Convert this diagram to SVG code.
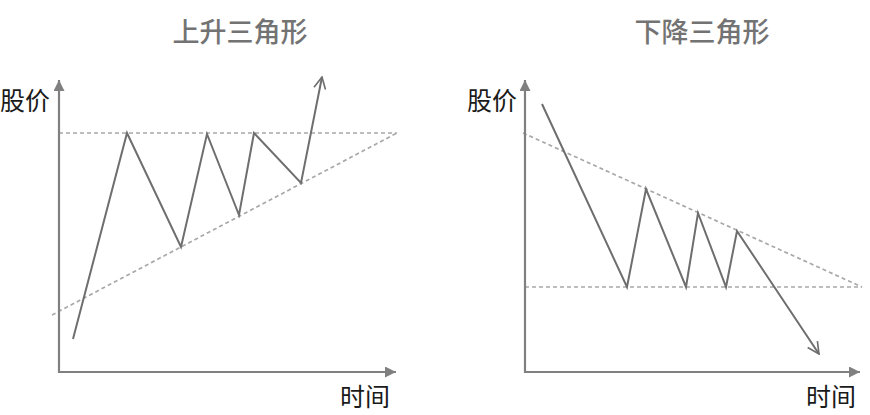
<svg xmlns="http://www.w3.org/2000/svg" width="870" height="415" viewBox="0 0 870 415">
<defs>
<marker id="axArrow" viewBox="0 0 10 10" refX="10" refY="5" markerWidth="5" markerHeight="5" orient="auto" markerUnits="strokeWidth">
<path d="M0,0 L10,5 L0,10 z" fill="#808080"/>
</marker>
<marker id="openArrow" viewBox="0 0 12 12" refX="11" refY="6" markerWidth="7" markerHeight="7" orient="auto" markerUnits="strokeWidth">
<path d="M1,1 L11,6 L1,11" fill="none" stroke="#6e6e6e" stroke-width="1.4"/>
</marker>
<style>
.axis{stroke:#808080;stroke-width:2.2;fill:none}
.dash{stroke:#a8a8a8;stroke-width:1.7;stroke-dasharray:4 3;fill:none}
.price{stroke:#6e6e6e;stroke-width:2;fill:none;stroke-linejoin:miter}
.lbl{font-family:"Liberation Serif","Noto Sans CJK SC",serif;font-size:25px;fill:#1a1a1a}
.title{font-family:"Noto Sans CJK SC",sans-serif;font-size:27px;fill:#737373;font-weight:500;text-anchor:middle}
</style>
</defs>
<rect width="870" height="415" fill="#ffffff"/>

<g id="ascending">
<text class="title" x="240" y="42">上升三角形</text>
<text class="lbl" x="0" y="110">股价</text>
<text class="lbl" x="340" y="406">时间</text>
<line class="dash" x1="59" y1="133" x2="397" y2="133"/>
<line class="dash" x1="52" y1="315" x2="397" y2="133"/>
</g>

<g id="descending">
<text class="title" x="702" y="42">下降三角形</text>
<text class="lbl" x="467" y="110">股价</text>
<text class="lbl" x="806" y="406">时间</text>
<line class="dash" x1="525" y1="287" x2="862" y2="287"/>
<line class="dash" x1="523" y1="133" x2="862" y2="287"/>
</g>

<g id="connectors">
<line class="axis" x1="59" y1="372" x2="396" y2="372" marker-end="url(#axArrow)"/>
<line class="axis" x1="59" y1="373" x2="59" y2="80" marker-end="url(#axArrow)"/>
<line class="axis" x1="525" y1="372" x2="860" y2="372" marker-end="url(#axArrow)"/>
<line class="axis" x1="525" y1="373" x2="525" y2="80" marker-end="url(#axArrow)"/>
<polyline class="price" points="73,339 127,133 181,247 207,134 239,215 254,133 301,183 322,77" marker-end="url(#openArrow)"/>
<polyline class="price" points="542,104 627,287 646,189 686,287 698,213 726,287 737,231 819,354" marker-end="url(#openArrow)"/>
</g>
</svg>
